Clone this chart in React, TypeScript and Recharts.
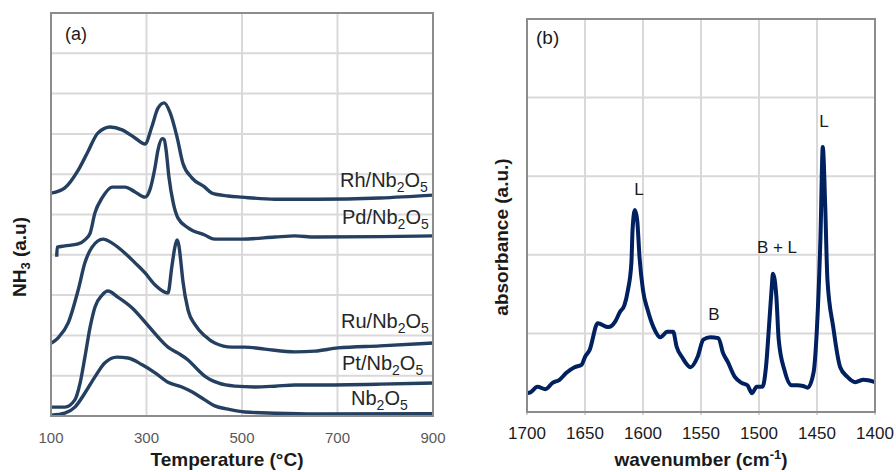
import React from "react";
import {
  LineChart,
  Line,
  XAxis,
  YAxis,
  CartesianGrid,
} from "recharts";

// ---------- Panel (a): NH3-TPD ----------
const tempTicks = [100, 300, 500, 700, 900];
const nh3Ticks = [0, 1, 2, 3, 4, 5, 6, 7, 8, 9, 10];

const rhTemp = [101, 129, 157, 177, 198, 224, 249, 276, 297, 311, 324, 337, 349, 364, 376, 395, 422, 437, 471, 500, 569, 653, 789, 900];
const rhNH3 = [5.53, 5.66, 6.1, 6.55, 7.02, 7.17, 7.1, 6.9, 6.75, 7.17, 7.64, 7.77, 7.54, 6.92, 6.28, 5.91, 5.68, 5.53, 5.46, 5.43, 5.38, 5.38, 5.41, 5.48];

const pdTemp = [112, 113, 129, 157, 171, 182, 192, 207, 228, 255, 276, 297, 307, 318, 324, 333, 337, 341, 347, 356, 366, 387, 422, 443, 500, 569, 611, 653, 789, 900];
const pdNH3 = [3.95, 4.19, 4.22, 4.27, 4.37, 4.54, 5.04, 5.41, 5.68, 5.68, 5.56, 5.43, 5.61, 6.18, 6.6, 6.88, 6.86, 6.6, 5.93, 5.29, 4.91, 4.67, 4.49, 4.39, 4.39, 4.44, 4.47, 4.44, 4.45, 4.47];

const ruTemp = [101, 115, 136, 157, 171, 186, 209, 228, 255, 276, 297, 318, 345, 353, 360, 364, 368, 372, 376, 387, 402, 422, 443, 479, 506, 548, 611, 653, 701, 789, 900];
const ruNH3 = [1.81, 1.94, 2.31, 3.13, 3.8, 4.19, 4.39, 4.29, 4.04, 3.8, 3.55, 3.25, 3.05, 3.7, 4.22, 4.37, 4.22, 3.82, 3.37, 2.63, 2.26, 1.99, 1.81, 1.71, 1.71, 1.66, 1.59, 1.61, 1.69, 1.74, 1.81];

const ptTemp = [101, 129, 150, 161, 171, 182, 192, 207, 219, 240, 270, 297, 324, 345, 366, 387, 408, 422, 450, 485, 527, 569, 611, 653, 789, 900];
const ptNH3 = [0.22, 0.22, 0.4, 0.82, 1.46, 2.21, 2.7, 3.0, 3.1, 2.95, 2.68, 2.33, 1.96, 1.71, 1.56, 1.39, 1.14, 0.99, 0.82, 0.74, 0.72, 0.74, 0.77, 0.77, 0.79, 0.82];

const nbTemp = [101, 129, 150, 171, 192, 213, 238, 261, 291, 318, 345, 374, 395, 422, 443, 471, 506, 569, 653, 900];
const nbNH3 = [0.02, 0.07, 0.22, 0.57, 0.97, 1.32, 1.46, 1.44, 1.27, 1.07, 0.84, 0.72, 0.6, 0.4, 0.25, 0.17, 0.1, 0.07, 0.05, 0.06];

// ---------- Panel (b): IR spectrum ----------
const wnTicks = [1400, 1450, 1500, 1550, 1600, 1650, 1700];
const absTicks = [0, 1, 2, 3, 4, 5];

const wavenumber = [1700, 1697, 1691, 1684, 1678, 1672, 1666, 1659, 1653, 1650, 1646, 1639, 1630, 1624, 1620, 1616, 1613, 1610, 1609, 1607, 1605, 1603, 1600, 1596, 1591, 1585, 1579, 1574, 1571, 1566, 1559, 1553, 1548, 1542, 1535, 1531, 1527, 1521, 1515, 1510, 1506, 1502, 1497, 1494, 1491, 1489, 1488, 1485, 1483, 1478, 1472, 1467, 1462, 1458, 1453, 1450, 1447, 1445, 1443, 1441, 1436, 1430, 1424, 1417, 1410, 1400];
const absorbance = [0.24, 0.25, 0.32, 0.29, 0.37, 0.41, 0.5, 0.57, 0.6, 0.7, 0.79, 1.13, 1.08, 1.15, 1.27, 1.36, 1.55, 1.9, 2.32, 2.57, 2.44, 1.97, 1.55, 1.3, 1.08, 0.95, 1.02, 1.02, 0.83, 0.69, 0.57, 0.7, 0.92, 0.95, 0.94, 0.75, 0.64, 0.45, 0.37, 0.34, 0.24, 0.32, 0.32, 0.57, 1.17, 1.59, 1.76, 1.46, 0.92, 0.53, 0.34, 0.34, 0.33, 0.31, 0.5, 1.08, 2.23, 3.37, 2.66, 1.68, 1.08, 0.57, 0.45, 0.38, 0.41, 0.38];

// Merge the TPD series into one table keyed by temperature
const tpdSources: [string, number[], number[]][] = [
  ["rh", rhTemp, rhNH3],
  ["pd", pdTemp, pdNH3],
  ["ru", ruTemp, ruNH3],
  ["pt", ptTemp, ptNH3],
  ["nb", nbTemp, nbNH3],
];
const tpdTable = (() => {
  const rows = new Map<number, any>();
  tpdSources.forEach(([key, ts, vs]) => {
    ts.forEach((t, i) => {
      if (!rows.has(t)) rows.set(t, { x: t });
      rows.get(t)[key] = vs[i];
    });
  });
  return Array.from(rows.values()).sort((a, b) => a.x - b.x);
})();
const irData = wavenumber.map((x, i) => ({ x, v: absorbance[i] })).sort((a, b) => a.x - b.x);

const FONT = "'Liberation Sans', Arial, sans-serif";
const LEFT_LINE = "#243F60";
const RIGHT_LINE = "#002060";
const GRID = "#d9d9d9";
const FRAME = "#8c8c8c";

function Formula({ x, y, pre, size = 20 }: { x: number; y: number; pre: string; size?: number }) {
  const sub = Math.round(size * 0.7);
  return (
    <text x={x} y={y} fontSize={size} fill="#262626" fontFamily={FONT}>
      {pre}Nb
      <tspan dy={5} fontSize={sub}>2</tspan>
      <tspan dy={-5}>O</tspan>
      <tspan dy={5} fontSize={sub}>5</tspan>
    </text>
  );
}

export default function App() {
  return (
    <div style={{ position: "absolute", left: 0, top: 0, width: 896, height: 472, background: "#fff" }}>
      <div style={{ position: "absolute", left: 0, top: 0 }}>
        <LineChart width={450} height={472} data={tpdTable} margin={{ top: 13, left: 51, right: 17, bottom: 26 }}>
          <CartesianGrid stroke={GRID} strokeWidth={2} />
          <XAxis
            dataKey="x"
            type="number"
            domain={[100, 900]}
            ticks={tempTicks}
            tickLine={false}
            axisLine={{ stroke: FRAME, strokeWidth: 2 }}
            tickMargin={10}
            tick={{ fill: "#595959", fontSize: 15, fontFamily: FONT }}
            height={30}
          />
          <YAxis type="number" domain={[0, 10]} ticks={nh3Ticks} hide />
          {tpdSources.map(([key]) => (
            <Line
              key={key}
              dataKey={key}
              type="monotone"
              connectNulls
              stroke={LEFT_LINE}
              strokeWidth={3.4}
              dot={false}
              isAnimationActive={false}
            />
          ))}
        </LineChart>
      </div>
      <div style={{ position: "absolute", left: 450, top: 0 }}>
        <LineChart width={446} height={472} data={irData} margin={{ top: 19, left: 77, right: 21, bottom: 30 }}>
          <CartesianGrid stroke={GRID} strokeWidth={2} />
          <XAxis
            dataKey="x"
            type="number"
            domain={[1400, 1700]}
            reversed
            ticks={wnTicks}
            tickSize={3}
            tickLine={{ stroke: "#a6a6a6" }}
            axisLine={{ stroke: FRAME, strokeWidth: 2 }}
            tickMargin={12}
            tick={{ fill: "#1a1a1a", fontSize: 17, fontFamily: FONT }}
            height={30}
          />
          <YAxis type="number" domain={[0, 5]} ticks={absTicks} hide />
          <Line
            dataKey="v"
            type="monotone"
            stroke={RIGHT_LINE}
            strokeWidth={4}
            dot={false}
            isAnimationActive={false}
          />
        </LineChart>
      </div>
      {/* plot-area frames */}
      <div style={{ position: "absolute", left: 50, top: 12, width: 384, height: 405, boxSizing: "border-box", border: `2px solid ${FRAME}`, pointerEvents: "none" }} />
      <div style={{ position: "absolute", left: 526, top: 18, width: 350, height: 395, boxSizing: "border-box", border: `2px solid ${FRAME}`, pointerEvents: "none" }} />
      <svg width={896} height={472} style={{ position: "absolute", left: 0, top: 0, pointerEvents: "none" }}>
        <g fontFamily={FONT}>
          <text x={65} y={40} fontSize={18} fill="#1a1a1a">(a)</text>
          <text x={536} y={44} fontSize={19} fill="#1a1a1a">(b)</text>

          <Formula x={340} y={187} pre="Rh/" />
          <Formula x={342} y={224} pre="Pd/" />
          <Formula x={341} y={328} pre="Ru/" />
          <Formula x={342} y={370} pre="Pt/" />
          <Formula x={351} y={405} pre="" />

          <text x={227} y={466} fontSize={19} fontWeight="bold" textAnchor="middle" fill="#1a1a1a">
            Temperature (°C)
          </text>
          <text transform="translate(26,257) rotate(-90)" fontSize={19} fontWeight="bold" textAnchor="middle" fill="#1a1a1a">
            NH<tspan dy={4} fontSize={13}>3</tspan><tspan dy={-4}> (a.u)</tspan>
          </text>

          <text x={701} y={466} fontSize={19} fontWeight="bold" textAnchor="middle" fill="#1a1a1a">
            wavenumber (cm<tspan dy={-7} fontSize={13}>-1</tspan><tspan dy={7}>)</tspan>
          </text>
          <text transform="translate(508,237) rotate(-90)" fontSize={19} fontWeight="bold" textAnchor="middle" fill="#1a1a1a">
            absorbance (a.u.)
          </text>

          <text x={639} y={195} fontSize={17} textAnchor="middle" fill="#1a1a1a">L</text>
          <text x={714} y={320} fontSize={17} textAnchor="middle" fill="#1a1a1a">B</text>
          <text x={777} y={253} fontSize={17} textAnchor="middle" fill="#1a1a1a">B + L</text>
          <text x={824} y={127} fontSize={17} textAnchor="middle" fill="#1a1a1a">L</text>
        </g>
      </svg>
    </div>
  );
}
